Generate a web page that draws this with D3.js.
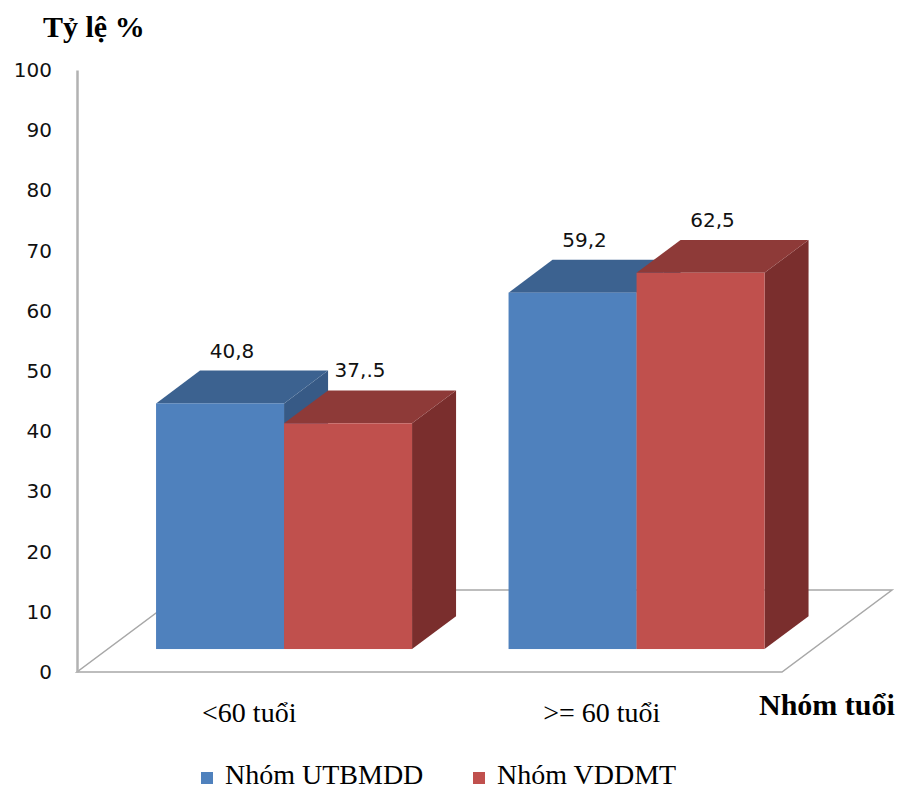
<!DOCTYPE html>
<html>
<head>
<meta charset="utf-8">
<script src="https://cdn.jsdelivr.net/npm/d3@7"></script>
<style>
  html, body { margin: 0; padding: 0; background: #fff; }
  svg { display: block; }
</style>
</head>
<body>
<svg id="chart" width="906" height="792"></svg>
<script>
// Age groups and the two patient groups (percent)
const categories = ["<60 tuổi", ">= 60 tuổi"];
const seriesNames = ["Nhóm UTBMDD", "Nhóm VDDMT"];
const utbmdd = [40.8, 59.2];
const vddmt = [37.5, 62.5];
const valueLabels = [["40,8", "59,2"], ["37,.5", "62,5"]];
const yTicks = [0, 10, 20, 30, 40, 50, 60, 70, 80, 90, 100];

const series = [utbmdd, vddmt];

// Face colours: front, top, side
const palette = [
  { front: "#4F81BD", top: "#3C6290", side: "#375A86" },
  { front: "#C0504D", top: "#8E3A38", side: "#7A2E2D" }
];

const svg = d3.select("#chart");
const serif = "'Liberation Serif', 'Times New Roman', serif";
const sans = "'DejaVu Sans', Verdana, sans-serif";

// Front plane of the floor
const y = d3.scaleLinear().domain([0, 100]).range([672, 70]);
const x = d3.scaleBand().domain(categories).range([77, 782]).paddingInner(0).paddingOuter(0);

// Oblique depth direction
const floorDepth = { dx: 110, dy: -82 };
const depthAt = t => ({ dx: floorDepth.dx * t, dy: floorDepth.dy * t });
const barFront = depthAt(0.28);
const barBack = depthAt(0.68);
const barDepth = { dx: barBack.dx - barFront.dx, dy: barBack.dy - barFront.dy };
const barWidth = 128;

// Floor
const [fx0, fx1] = x.range();
const fy = y(0);
svg.append("path")
  .attr("d", `M${fx0},${fy} L${fx1},${fy} L${fx1 + floorDepth.dx},${fy + floorDepth.dy} L${fx0 + floorDepth.dx},${fy + floorDepth.dy} Z`)
  .attr("fill", "#fff")
  .attr("stroke", "#a8a8a8")
  .attr("stroke-width", 1.5)
  .attr("stroke-linejoin", "miter");

// Y axis
const yAxis = d3.axisLeft(y).tickValues(yTicks).tickSize(0).tickSizeOuter(0).tickPadding(25).tickFormat(d3.format("d"));
const gy = svg.append("g").attr("transform", `translate(${fx0},0)`).call(yAxis);
gy.select(".domain").attr("stroke", "#b2b2b2").attr("stroke-width", 2.5);
gy.selectAll("text").attr("font-family", sans).attr("font-size", 20).attr("fill", "#111");

// Bars
const bars = svg.append("g");
categories.forEach((cat, ci) => {
  const groupStart = x(cat) + (x.bandwidth() - barWidth * series.length) / 2;
  series.forEach((vals, si) => {
    const v = vals[ci];
    const c = palette[si];
    const x0 = groupStart + si * barWidth + barFront.dx;
    const x1 = x0 + barWidth;
    const yb = y(0) + barFront.dy;
    const yt = y(v) + barFront.dy;
    const ddx = barDepth.dx, ddy = barDepth.dy;
    const g = bars.append("g");
    // side face
    g.append("path")
      .attr("d", `M${x1},${yt} L${x1 + ddx},${yt + ddy} L${x1 + ddx},${yb + ddy} L${x1},${yb} Z`)
      .attr("fill", c.side);
    // top face
    g.append("path")
      .attr("d", `M${x0},${yt} L${x0 + ddx},${yt + ddy} L${x1 + ddx},${yt + ddy} L${x1},${yt} Z`)
      .attr("fill", c.top);
    // front face
    g.append("rect")
      .attr("x", x0).attr("y", yt)
      .attr("width", barWidth).attr("height", yb - yt)
      .attr("fill", c.front);
    // value label
    svg.append("text")
      .attr("x", (x0 + x1) / 2 + 12)
      .attr("y", yt + ddy - 13)
      .attr("text-anchor", "middle")
      .attr("font-family", sans)
      .attr("font-size", 20)
      .attr("fill", "#111")
      .text(valueLabels[si][ci]);
  });
});

// Category labels
svg.append("g").selectAll("text")
  .data(categories)
  .join("text")
  .attr("x", d => x(d) + x.bandwidth() / 2 - 4)
  .attr("y", 722)
  .attr("text-anchor", "middle")
  .attr("font-family", serif)
  .attr("font-size", 28)
  .attr("fill", "#000")
  .text(d => d);

// Axis titles
svg.append("text")
  .attr("x", 43).attr("y", 37)
  .attr("font-family", serif).attr("font-size", 30).attr("font-weight", "bold")
  .attr("fill", "#000")
  .text("Tỷ lệ %");

svg.append("text")
  .attr("x", 759).attr("y", 715)
  .attr("font-family", serif).attr("font-size", 30).attr("font-weight", "bold")
  .attr("fill", "#000")
  .text("Nhóm tuổi");

// Legend
const legendX = [201, 473];
const legend = svg.append("g").selectAll("g")
  .data(seriesNames)
  .join("g")
  .attr("transform", (d, i) => `translate(${legendX[i]},0)`);
legend.append("rect")
  .attr("x", 0).attr("y", 772).attr("width", 12).attr("height", 12)
  .attr("fill", (d, i) => palette[i].front);
legend.append("text")
  .attr("x", 24).attr("y", 784)
  .attr("font-family", serif).attr("font-size", 28)
  .attr("fill", "#000")
  .text(d => d);
</script>
</body>
</html>
